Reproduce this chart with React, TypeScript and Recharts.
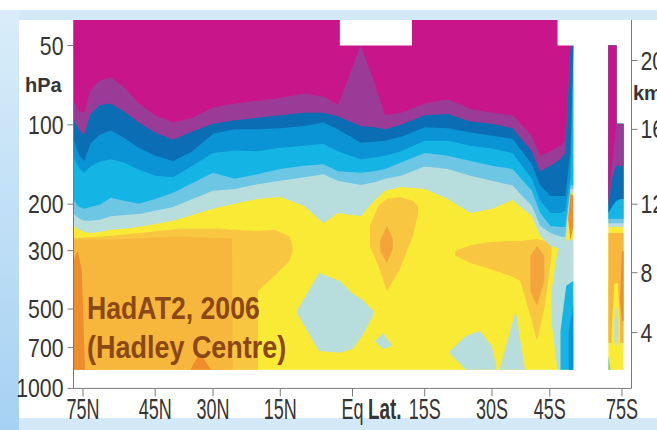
import { ComposedChart, Area, XAxis, YAxis } from "recharts";

const FONT = "'Liberation Sans', Arial, Helvetica, sans-serif";

// axes
const pressureTicks = [50, 100, 200, 300, 500, 700, 1000];
const kmTicks = [20, 16, 12, 8, 4];
const kmPressure = [57, 104, 200, 364, 614];
const latTicks = [75, 45, 30, 15, 0, -15, -30, -45, -75];
const latLabels = ["75N", "45N", "30N", "15N", "Eq", "15S", "30S", "45S", "75S"];
const TOP_HPA = 40;
const BOTTOM_HPA = 850;

// contour bands: pressure (hPa) of the lower edge of each band, per latitude
const mainLats = [88, 82, 78, 74, 70, 65, 60, 55, 50, 45, 40, 35, 30, 25, 20, 15, 10, 6, 3, -1.7, -4.5, -6.7, -10, -15, -20, -25, -30, -35, -40, -42.3, -45.2, -48.2, -49.7, -51.4, -52.3];
const magentaBase = [81, 84, 89, 90, 74, 68, 66, 72, 83, 92, 98, 94, 86, 83, 81, 79, 76, 78, 84, 50, 69, 92, 90, 83, 80, 87, 90, 92, 110, 131, 126, 120, 115, 50, 50];
const purpleBase = [95, 100, 105, 109, 91, 84, 83, 89, 98, 107, 114, 106, 99, 96, 94, 92, 90, 90, 93, 101, 102, 104, 100, 92, 91, 97, 99, 103, 126, 150, 143, 135, 128, 50, 50];
const darkBlueBase = [113, 122, 131, 137, 118, 109, 105, 112, 122, 131, 137, 126, 108, 104, 104, 103, 101, 98, 104, 117, 116, 115, 111, 102, 103, 107, 110, 113, 141, 170, 186, 186, 186, 126, 50];
const blueBase = [132, 139, 147, 152, 144, 138, 135, 139, 148, 156, 158, 143, 128, 125, 126, 122, 120, 118, 126, 135, 133, 131, 126, 115, 115, 120, 123, 128, 160, 194, 216, 216, 212, 156, 55];
const cyanBase = [191, 199, 205, 208, 205, 201, 189, 194, 199, 191, 181, 166, 152, 160, 154, 147, 143, 141, 150, 152, 150, 147, 139, 128, 131, 137, 143, 147, 178, 216, 242, 244, 244, 170, 170];
const skyBase = [216, 222, 227, 231, 231, 229, 222, 220, 218, 212, 205, 191, 178, 175, 168, 163, 158, 154, 163, 169, 165, 160, 156, 144, 147, 156, 163, 170, 203, 242, 257, 266, 266, 175, 175];
const tealBase = [242, 246, 250, 255, 257, 255, 250, 248, 244, 238, 231, 220, 208, 199, 191, 188, 203, 236, 216, 222, 194, 178, 172, 175, 191, 216, 208, 193, 222, 264, 288, 296, 296, 181, 181];

// tropospheric patches: [lat, upper hPa, lower hPa]
const orangeLight = [[89.5, 269, 850], [65, 266, 850], [49.7, 257, 850], [38.3, 248, 850], [28.4, 248, 850], [20.5, 253, 850], [19.8, 253, 850], [19.8, 253, 427], [16.2, 250, 374], [13, 266, 328], [12.4, 288, 301]];
const orangeMid = [[89.5, 272, 850], [60, 273, 850], [40, 266, 850], [30, 268, 850], [25.6, 270, 850], [25.4, 850, 850]];
const orangeEdge = [[89.5, 328, 850], [80, 301, 850], [76, 358, 850], [73.5, 850, 850]];
const orangeSpot = [[35.5, 850, 850], [33.2, 733, 850], [30.5, 850, 850]];
const orangeEq = [[-3.6, 242, 288], [-5.3, 203, 343], [-7.1, 191, 427], [-9.8, 188, 352], [-12.5, 194, 264], [-13.6, 203, 216]];
const orangeEqCore = [[-5.7, 276, 301], [-7.1, 242, 334], [-8.3, 271, 296]];
const orangeSouth = [[-21.6, 301, 314], [-25, 286, 334], [-29.6, 278, 352], [-34.4, 276, 374], [-37, 276, 391], [-39.6, 273, 531], [-41.4, 271, 660], [-43.6, 276, 486], [-45.5, 286, 314]];
const orangeSouthCore = [[-39.6, 314, 427], [-41.4, 288, 486], [-43.4, 314, 391]];
const orangeRim = [[-50.5, 203, 222], [-51.4, 181, 276], [-52.3, 186, 242]];
const tealEq = [[11.5, 508, 517], [6.9, 365, 721], [2.6, 391, 733], [0, 436, 708], [-2, 461, 632], [-4.3, 508, 527]];
const tealSmall = [[-4.8, 660, 666], [-6.3, 616, 708], [-8.1, 684, 690]];
const tealLow = [[-20.5, 721, 740], [-24, 632, 850], [-27.2, 605, 850], [-29.9, 690, 850], [-31, 814, 850]];
const tealSpike = [[-31.8, 850, 850], [-35.8, 508, 850], [-38.2, 850, 850]];
const tealRim = [[-45.5, 427, 555], [-47.3, 301, 850], [-49.7, 276, 850], [-52.3, 271, 850]];
const cyanRim = [[-48.2, 605, 850], [-50, 408, 850], [-52.3, 391, 850]];
const blueRim = [[-50.8, 605, 850], [-52.3, 486, 850]];

// no data above 50 hPa here
const gapEq = [[2.6, 40, 50], [-12.3, 40, 50]];
const gapSouth = [[-47.3, 40, 50], [-53.5, 40, 50]];

// Antarctic column
const stripLats = [-66.5, -68.7, -71.1, -71.1, -73.9, -76.3];
const stripTop = [50, 50, 50, 99, 99, 99];
const stripMagenta = [194, 137, 99, 99, 99, 99];
const stripPurple = [203, 156, 143, 143, 143, 143];
const stripDarkBlue = [216, 203, 194, 194, 191, 191];
const stripCyan = [227, 227, 227, 227, 227, 227];
const stripSky = [236, 236, 236, 236, 236, 236];
const stripTeal = [244, 244, 244, 244, 244, 244];
const stripOrange = [[-66.5, 257, 672], [-76.3, 257, 672]];
const stripYellowCore = [[-68.2, 605, 660], [-69.8, 401, 708], [-72, 397, 708], [-73.5, 554, 660]];
const stripTealCore = [[-69.8, 554, 660], [-71.1, 486, 690], [-72.3, 545, 649]];
const stripRedStreak = [[-73.5, 466, 466], [-75, 301, 554], [-76.3, 301, 554]];
const stripTealFoot = [[-66.5, 753, 850], [-67.6, 850, 850]];

const C = {
  magenta: "#c8168a",
  purple: "#993b97",
  darkBlue: "#0b6db4",
  blue: "#0a93d5",
  cyan: "#14b5e5",
  sky: "#6cc6e4",
  teal: "#b7dedc",
  yellow: "#f9ea35",
  orangeLight: "#f8c641",
  orange: "#f6b73c",
  orangeDeep: "#f3a43a",
  red: "#ef8c2c",
  axis: "#7a7a7a",
  text: "#353535",
  brown: "#8c4814",
};

const sinLat = (lat: number) => Math.sin((lat * Math.PI) / 180);
const lp = (p: number) => Math.log10(p);

const mainRows = mainLats.map((lat, i) => ({
  x: sinLat(lat),
  yellow: [lp(TOP_HPA), lp(BOTTOM_HPA)],
  teal: [lp(TOP_HPA), lp(tealBase[i])],
  sky: [lp(TOP_HPA), lp(skyBase[i])],
  cyan: [lp(TOP_HPA), lp(cyanBase[i])],
  blue: [lp(TOP_HPA), lp(blueBase[i])],
  darkBlue: [lp(TOP_HPA), lp(darkBlueBase[i])],
  purple: [lp(TOP_HPA), lp(purpleBase[i])],
  magenta: [lp(TOP_HPA), lp(magentaBase[i])],
}));

const stripRows = (base: number[] | null) =>
  stripLats.map((lat, i) => ({
    x: sinLat(lat),
    v: [lp(stripTop[i]), lp(base ? base[i] : BOTTOM_HPA)],
  }));

const patchRows = (pts: number[][]) =>
  pts.map(([lat, a, b]) => ({ x: sinLat(lat), v: [lp(a), lp(b)] }));

const band = (key: string, color: string) => (
  <Area
    key={key}
    yAxisId="p"
    dataKey={key}
    type="linear"
    fill={color}
    fillOpacity={1}
    stroke="none"
    dot={false}
    activeDot={false}
    isAnimationActive={false}
  />
);

const patch = (key: string, rows: { x: number; v: number[] }[], color: string) => (
  <Area
    key={key}
    yAxisId="p"
    data={rows}
    dataKey="v"
    type="linear"
    fill={color}
    fillOpacity={1}
    stroke="none"
    dot={false}
    activeDot={false}
    isAnimationActive={false}
  />
);

// horizontally squeezed text, anchored at (x, y)
function Squeezed({ x, y, sx, children, ...rest }: any) {
  return (
    <g transform={`translate(${x},${y}) scale(${sx},1)`}>
      <text x={0} y={0} fontFamily={FONT} {...rest}>
        {children}
      </text>
    </g>
  );
}

function PressureTick({ x, y, payload }: any) {
  const i = pressureTicks.findIndex((p) => Math.abs(lp(p) - payload.value) < 1e-6);
  return (
    <Squeezed x={x} y={y} sx={0.85} dy={9} textAnchor="end" fontSize={25} fill={C.text}>
      {pressureTicks[i]}
    </Squeezed>
  );
}

function KmTick({ x, y, payload }: any) {
  const i = kmPressure.findIndex((p) => Math.abs(lp(p) - payload.value) < 1e-6);
  return (
    <Squeezed x={x} y={y} sx={0.85} dy={9} textAnchor="start" fontSize={25} fill={C.text}>
      {kmTicks[i]}
    </Squeezed>
  );
}

function LatTick({ x, y, payload }: any) {
  const i = latTicks.findIndex((l) => Math.abs(sinLat(l) - payload.value) < 1e-6);
  return (
    <Squeezed x={x} y={y} sx={0.6} dy={23} textAnchor="middle" fontSize={30} fill={C.text}>
      {latLabels[i]}
    </Squeezed>
  );
}

export default function App() {
  return (
    <div style={{ position: "absolute", left: 0, top: 0, width: 657, height: 430, overflow: "hidden", background: "#d3e9f8" }}>
      <div style={{ position: "absolute", left: 0, top: 0, width: 657, height: 10, background: "#ffffff" }} />
      <div style={{ position: "absolute", left: 0, top: 10, width: 19, height: 420, background: "linear-gradient(#d9edf9, #a6d1f2)" }} />
      <div style={{ position: "absolute", left: 19, top: 20, width: 638, height: 398, background: "#ffffff" }} />
      <div style={{ position: "absolute", left: 0, top: 0 }}>
        <ComposedChart width={657} height={430} data={mainRows} margin={{ top: 20, right: 0, bottom: 0, left: 19.5 }}>
          {band("yellow", C.yellow)}
          {patch("orangeLight", patchRows(orangeLight), C.orangeLight)}
          {patch("orangeMid", patchRows(orangeMid), C.orange)}
          {patch("orangeEdge", patchRows(orangeEdge), C.red)}
          {patch("orangeSpot", patchRows(orangeSpot), C.red)}
          {patch("orangeEq", patchRows(orangeEq), C.orangeLight)}
          {patch("orangeEqCore", patchRows(orangeEqCore), C.orangeDeep)}
          {patch("orangeSouth", patchRows(orangeSouth), C.orangeLight)}
          {patch("orangeSouthCore", patchRows(orangeSouthCore), C.orangeDeep)}
          {patch("orangeRim", patchRows(orangeRim), C.red)}
          {patch("tealEq", patchRows(tealEq), C.teal)}
          {patch("tealSmall", patchRows(tealSmall), C.teal)}
          {patch("tealLow", patchRows(tealLow), C.teal)}
          {patch("tealSpike", patchRows(tealSpike), C.teal)}
          {patch("tealRim", patchRows(tealRim), C.teal)}
          {patch("cyanRim", patchRows(cyanRim), C.cyan)}
          {patch("blueRim", patchRows(blueRim), C.blue)}
          {band("teal", C.teal)}
          {band("sky", C.sky)}
          {band("cyan", C.cyan)}
          {band("blue", C.blue)}
          {band("darkBlue", C.darkBlue)}
          {band("purple", C.purple)}
          {band("magenta", C.magenta)}
          {patch("gapEq", patchRows(gapEq), "#ffffff")}
          {patch("gapSouth", patchRows(gapSouth), "#ffffff")}

          {patch("stripYellow", stripRows(null), C.yellow)}
          {patch("stripOrange", patchRows(stripOrange), C.orange)}
          {patch("stripYellowCore", patchRows(stripYellowCore), C.yellow)}
          {patch("stripTealCore", patchRows(stripTealCore), C.teal)}
          {patch("stripRedStreak", patchRows(stripRedStreak), C.red)}
          {patch("stripTealFoot", patchRows(stripTealFoot), C.sky)}
          {patch("stripTeal", stripRows(stripTeal), C.teal)}
          {patch("stripSky", stripRows(stripSky), C.sky)}
          {patch("stripCyan", stripRows(stripCyan), C.cyan)}
          {patch("stripDarkBlue", stripRows(stripDarkBlue), C.darkBlue)}
          {patch("stripPurple", stripRows(stripPurple), C.purple)}
          {patch("stripMagenta", stripRows(stripMagenta), C.magenta)}

          <XAxis
            type="number"
            dataKey="x"
            domain={[-1, 1]}
            reversed
            allowDataOverflow
            ticks={latTicks.map(sinLat)}
            height={41.6}
            tickSize={8}
            tickMargin={0}
            axisLine={{ stroke: C.axis }}
            tickLine={{ stroke: C.axis }}
            tick={(p: any) => <LatTick {...p} />}
            interval={0}
          />
          <YAxis
            yAxisId="p"
            type="number"
            domain={[lp(TOP_HPA), 3]}
            reversed
            allowDataOverflow
            ticks={pressureTicks.map(lp)}
            width={54}
            tickSize={6}
            tickMargin={4}
            axisLine={{ stroke: C.axis }}
            tickLine={{ stroke: C.axis }}
            tick={(p: any) => <PressureTick {...p} />}
            interval={0}
          />
          <YAxis
            yAxisId="km"
            orientation="right"
            type="number"
            domain={[lp(TOP_HPA), 3]}
            reversed
            allowDataOverflow
            ticks={kmPressure.map(lp)}
            width={25.5}
            tickSize={6}
            tickMargin={3}
            axisLine={{ stroke: C.axis }}
            tickLine={{ stroke: C.axis }}
            tick={(p: any) => <KmTick {...p} />}
            interval={0}
          />
        </ComposedChart>
      </div>
      <svg width={657} height={430} style={{ position: "absolute", left: 0, top: 0, pointerEvents: "none" }}>
        <text x={25} y={92} fontSize={20} fontWeight="bold" fontFamily={FONT} fill={C.text}>
          hPa
        </text>
        <text x={633} y={100} fontSize={20} fontWeight="bold" fontFamily={FONT} fill={C.text}>
          km
        </text>
        <Squeezed x={368} y={419} sx={0.65} fontSize={29} fontWeight="bold" fill={C.text}>
          Lat.
        </Squeezed>
        <Squeezed x={87} y={319} sx={0.86} fontSize={31} fontWeight="bold" fill={C.brown}>
          HadAT2, 2006
        </Squeezed>
        <Squeezed x={87} y={358} sx={0.87} fontSize={31} fontWeight="bold" fill={C.brown}>
          (Hadley Centre)
        </Squeezed>
      </svg>
    </div>
  );
}
